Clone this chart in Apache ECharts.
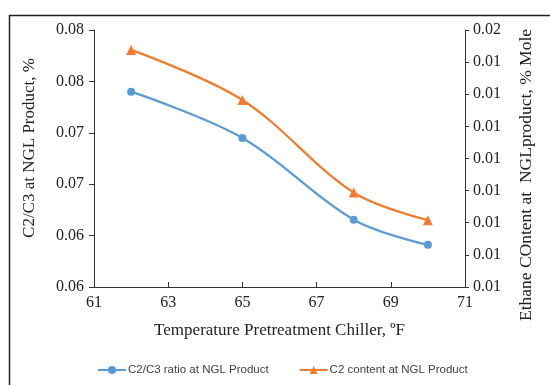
<!DOCTYPE html>
<html>
<head>
<meta charset="utf-8">
<script src="https://cdn.jsdelivr.net/npm/echarts@6/dist/echarts.min.js"></script>
<style>html,body{margin:0;padding:0;background:#fff}#c{width:550px;height:385px}</style>
</head>
<body>
<div id="c"></div>
<script>
var temps = [62, 65, 68, 70];
var c2c3Ratio = [0.0740, 0.0695, 0.06155, 0.0591];
var c2Content = [0.01469, 0.01391, 0.01247, 0.01204];
var xTicks = ['61', '63', '65', '67', '69', '71'];
var leftTickLabels = ['0.06', '0.06', '0.07', '0.07', '0.08', '0.08'];
var rightTickLabels = ['0.01', '0.01', '0.01', '0.01', '0.01', '0.01', '0.01', '0.01', '0.02'];
var leftAxisTitle = 'C2/C3 at NGL Product, %';
var rightAxisTitle = 'Ethane COntent at  NGLproduct, % Mole';

var serif = '"Liberation Serif", "DejaVu Serif", serif';
var chart = echarts.init(document.getElementById('c'));
chart.setOption({
  animation: false,
  backgroundColor: '#fff',
  graphic: [{
    type: 'rect', left: 7, top: 13, silent: true,
    shape: { width: 600, height: 400 },
    style: { fill: 'none', stroke: '#222', lineWidth: 1.5 }
  }, {
    type: 'text', x: 30, y: 148, rotation: Math.PI / 2, silent: true,
    style: { text: leftAxisTitle, font: '17px ' + serif, fill: '#222', align: 'center', verticalAlign: 'middle' }
  }, {
    type: 'text', x: 526, y: 175, rotation: Math.PI / 2, silent: true,
    style: { text: rightAxisTitle, font: '17.5px ' + serif, fill: '#222', align: 'center', verticalAlign: 'middle' }
  }],
  grid: { left: 94, right: 85, top: 30, bottom: 98 },
  legend: {
    top: 364, left: 97, padding: 0, itemGap: 30, itemWidth: 28, itemHeight: 10,
    textStyle: { fontFamily: '"Liberation Sans", Arial, sans-serif', fontSize: 11.5, color: '#404040', padding: [0, 0, 0, -3] },
    data: ['C2/C3 ratio at NGL Product', 'C2 content at NGL Product']
  },
  xAxis: {
    type: 'value', min: 61, max: 71, interval: 2,
    name: 'Temperature Pretreatment Chiller, ºF',
    nameLocation: 'middle', nameGap: 35,
    nameTextStyle: { fontFamily: serif, fontSize: 17, color: '#222' },
    axisLine: { lineStyle: { color: '#333', width: 1 } },
    axisTick: { show: true, inside: true, length: 5, lineStyle: { color: '#333' } },
    axisLabel: { fontFamily: serif, fontSize: 16, color: '#222', margin: 8,
      formatter: function (v, i) { return xTicks[i]; } },
    splitLine: { show: false }
  },
  yAxis: [{
    type: 'value', min: 0.055, max: 0.08, interval: 0.005,
    position: 'left',
    axisLine: { show: true, lineStyle: { color: '#333', width: 1 } },
    axisTick: { show: true, length: 5, lineStyle: { color: '#333' } },
    axisLabel: { fontFamily: serif, fontSize: 16, color: '#222', margin: 10,
      formatter: function (v, i) { return leftTickLabels[i]; } },
    splitLine: { show: false }
  }, {
    type: 'value', min: 0.011, max: 0.015, interval: 0.0005,
    position: 'right',
    axisLine: { show: true, lineStyle: { color: '#333', width: 1 } },
    axisTick: { show: true, length: 4, lineStyle: { color: '#333' } },
    axisLabel: { fontFamily: serif, fontSize: 16, color: '#222', margin: 8,
      formatter: function (v, i) { return rightTickLabels[i]; } },
    splitLine: { show: false }
  }],
  series: [{
    name: 'C2/C3 ratio at NGL Product', type: 'line', yAxisIndex: 0,
    smooth: 0.35, symbol: 'circle', symbolSize: 8,
    itemStyle: { color: '#5B9BD5' }, lineStyle: { color: '#5B9BD5', width: 2.25 },
    data: temps.map(function (t, i) { return [t, c2c3Ratio[i]]; })
  }, {
    name: 'C2 content at NGL Product', type: 'line', yAxisIndex: 1,
    smooth: 0.35, symbol: 'triangle', symbolSize: 10,
    itemStyle: { color: '#ED7D31' }, lineStyle: { color: '#ED7D31', width: 2.25 },
    data: temps.map(function (t, i) { return [t, c2Content[i]]; })
  }]
});
</script>
</body>
</html>
